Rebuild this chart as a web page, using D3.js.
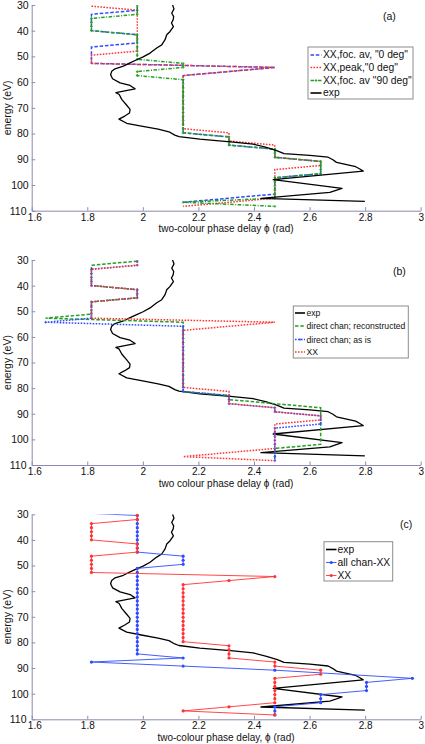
<!DOCTYPE html>
<html><head><meta charset="utf-8">
<script src="https://cdn.jsdelivr.net/npm/d3@7"></script>
<style>
body{margin:0;background:#fff;}
text{font-family:"Liberation Sans",Arial,sans-serif;}
</style>
</head><body>
<script>
// harmonic energies (eV), shared by all stepped series
const energies = [
 28.86, 30.45, 32.04, 33.63, 35.22, 36.81, 38.40, 39.98, 41.57, 43.16,
 44.75, 46.34, 47.93, 49.52, 51.11, 52.70, 54.29, 55.87, 57.46, 59.05,
 60.64, 62.23, 63.82, 65.41, 67.00, 68.59, 70.18, 71.76, 73.35, 74.94,
 76.53, 78.12, 79.71, 81.30, 82.89, 84.48, 86.07, 87.65, 89.24, 90.83,
 92.42, 94.01, 95.60, 97.19, 98.78, 100.37, 101.96, 103.54, 105.13, 106.72,
 108.31];

// panel (a)
const xxFocAv0 = [
 1.98,1.98,1.98,1.815,1.815,1.815,1.815,1.815,1.98,1.98,
 1.98,1.815,1.815,1.815,1.815,1.815,2.475,2.31,2.145,2.145,
 2.145,2.145,2.145,2.145,2.145,2.145,2.145,2.145,2.145,2.145,
 2.145,2.145,2.145,2.31,2.31,2.31,2.475,2.475,2.475,2.64,
 2.64,2.64,2.64,2.475,2.475,2.475,2.475,2.475,2.31,2.145,
 null];
const xxPeak0 = [
 null,1.815,1.98,1.98,1.98,1.98,1.98,1.98,1.98,1.98,
 1.98,1.98,1.98,1.815,1.815,1.815,2.475,2.31,2.145,2.145,
 2.145,2.145,2.145,2.145,2.145,2.145,2.145,2.145,2.145,2.145,
 2.145,2.145,2.31,2.31,2.31,2.475,2.475,2.475,2.475,2.64,
 2.64,2.475,2.475,2.475,2.475,2.475,2.475,2.475,2.475,2.31,
 2.145];
const xxFocAv90 = [
 1.98,1.98,1.98,1.98,1.815,1.815,1.815,1.815,1.98,1.98,
 1.98,1.98,1.98,1.98,1.98,2.145,2.145,1.98,1.98,2.145,
 2.145,2.145,2.145,2.145,2.145,2.145,2.145,2.145,2.145,2.145,
 2.145,2.145,2.145,2.31,2.31,2.31,2.475,2.475,2.475,2.64,
 2.64,2.64,2.64,2.475,2.475,2.475,2.475,2.475,2.475,2.145,
 2.475];

// panels (b) and (c)
const xx = [
 null,1.98,1.98,1.815,1.815,1.815,1.815,1.815,1.98,1.98,
 1.98,1.815,1.815,1.815,1.815,1.815,2.475,2.31,2.145,2.145,
 2.145,2.145,2.145,2.145,2.145,2.145,2.145,2.145,2.145,2.145,
 2.145,2.145,2.145,2.31,2.31,2.31,2.31,2.475,2.475,2.64,
 2.64,2.475,2.475,2.475,2.475,2.475,2.475,2.475,2.31,2.145,
 2.475];
const directReconstructed = [
 null,1.98,1.815,1.815,1.815,1.815,1.815,1.815,1.98,1.98,
 1.98,1.815,1.815,1.815,1.815,1.65,2.145,2.145,2.145,2.145,
 2.145,2.145,2.145,2.145,2.145,2.145,2.145,2.145,2.145,2.145,
 2.145,2.145,2.145,2.145,2.31,2.31,2.475,2.64,2.64,2.64,
 2.64,2.64,2.64,2.64,2.64,2.64,2.64,2.475,2.475,2.475,
 2.475];
const directAsIs = [
 null,1.98,1.98,1.815,1.815,1.815,1.815,1.815,1.98,1.98,
 1.98,1.815,1.815,1.815,1.815,1.815,1.65,2.145,2.145,2.145,
 2.145,2.145,2.145,2.145,2.145,2.145,2.145,2.145,2.145,2.145,
 2.145,2.145,2.145,2.145,2.31,2.31,2.31,2.475,2.475,2.64,
 2.64,2.64,2.475,2.475,2.475,2.475,2.475,2.475,2.475,2.475,
 2.475];
const allChanMinusXX = [
 1.65,1.98,1.98,1.98,1.98,1.98,1.98,1.98,1.98,1.98,
 1.98,2.145,2.145,2.145,1.98,1.98,1.98,1.98,1.98,1.98,
 1.98,1.98,1.98,1.98,1.98,1.98,1.98,1.98,1.98,1.98,
 1.98,1.98,1.98,1.98,1.98,1.98,2.145,1.815,2.145,2.475,
 null,2.97,2.805,2.805,2.805,2.64,2.64,2.64,2.475,2.475,
 2.475];

// experiment (same in all panels)
const expEnergy = [30.0,31.5,33.2,34.5,35.8,37.0,38.4,40.3,41.6,43.5,45.5,46.7,48.7,50.2,51.3,52.5,53.8,54.8,55.8,57.1,58.7,60.3,61.3,62.6,64.1,64.8,66.7,69.0,70.6,72.0,73.2,74.4,76.0,77.0,78.3,79.3,80.6,81.2,82.2,83.3,84.1,85.4,86.7,87.8,88.5,89.2,90.2,91.2,92.9,93.8,94.6,97.9,101.3,102.9,105.2,106.4];
const expPhase  = [2.107,2.112,2.104,2.111,2.109,2.103,2.110,2.098,2.086,2.080,2.068,2.050,2.026,2.001,1.978,1.954,1.930,1.900,1.888,1.884,1.891,1.918,1.954,1.972,1.903,1.915,1.924,1.942,1.954,1.952,1.935,1.914,1.942,1.990,2.055,2.094,2.115,2.130,2.205,2.325,2.397,2.445,2.484,2.508,2.601,2.667,2.684,2.697,2.766,2.781,2.793,2.469,2.717,2.673,2.425,2.799];

const xTicks = [1.6,1.8,2.0,2.2,2.4,2.6,2.8,3.0];
const xTickLabels = ["1.6","1.8","2","2.2","2.4","2.6","2.8","3"];
const yTicks = [30,40,50,60,70,80,90,100,110];
const yTickLabels = ["30","40","50","60","70","80","90","100","110"];

const BLUE="#2f4bff", RED="#ff3333", GREEN="#22a022";

const svg = d3.select("body").append("svg").attr("width",425).attr("height",744);
const x = d3.scaleLinear().domain([1.6,3]).range([31.7,420.7]);

const panels = [
 {id:"a", top:5, bottom:210.7, tag:"(a)", tagX:383, tagY:20,
  xlabel:"two-colour phase delay \u03D5 (rad)", xlabelY:232,
  series:[
   {name:'XX,foc. av, "0 deg"', v:xxFocAv0, color:BLUE, w:1.5, dash:"3.5,1.8"},
   {name:'XX,peak,"0 deg"', v:xxPeak0, color:RED, w:1.5, dash:"1.6,1.4"},
   {name:'XX,foc. av "90 deg"', v:xxFocAv90, color:GREEN, w:1.5, dash:"3.5,1.5,1,1.5", plus:true},
   {name:"exp", exp:true}
  ],
  legend:{x:308,y:47,w:105,h:52, rows:[55,67.5,80.5,93], s0:310.5, s1:321.5, tx:323, fs:10.3}},
 {id:"b", top:260, bottom:465, tag:"(b)", tagX:393, tagY:275,
  xlabel:"two colour phase delay \u03D5 (rad)", xlabelY:486.5,
  series:[
   {name:"exp", exp:true},
   {name:"direct chan; reconstructed", v:directReconstructed, color:GREEN, w:1.5, dash:"3.5,1.8"},
   {name:"direct chan; as is", v:directAsIs, color:BLUE, w:1.5, dash:"1.6,1.4", plus:true},
   {name:"XX", v:xx, color:RED, w:1.5, dash:"1.6,1.4"}
  ],
  legend:{x:293.3,y:306,w:115,h:52, rows:[313,326,339.5,352], s0:295, s1:305, tx:306.5, fs:8.6}},
 {id:"c", top:514.3, bottom:719.3, tag:"(c)", tagX:400, tagY:528,
  xlabel:"two-colour phase delay, \u03D5 (rad)", xlabelY:741,
  series:[
   {name:"exp", exp:true},
   {name:"all chan-XX", v:allChanMinusXX, color:BLUE, w:0.9, dots:true},
   {name:"XX", v:xx, color:RED, w:0.9, dots:true}
  ],
  legend:{x:324,y:541.7,w:68.7,h:39.3, rows:[549.5,562.5,575.5], s0:326, s1:336.5, tx:337.5, fs:10.3}}
];

panels.forEach(p => {
  const y = d3.scaleLinear().domain([30,110]).range([p.top,p.bottom]);
  const g = svg.append("g");
  const clipId = "clip-"+p.id;
  svg.append("clipPath").attr("id",clipId).append("rect")
    .attr("x",x(1.6)).attr("y",p.top).attr("width",x(3)-x(1.6)).attr("height",p.bottom-p.top);

  // axes
  const axB = g.append("g").attr("transform",`translate(0,${p.bottom})`)
    .call(d3.axisBottom(x).tickValues(xTicks).tickFormat((d,i)=>xTickLabels[i])
      .tickSizeInner(-3.5).tickSizeOuter(0).tickPadding(3));
  const axL = g.append("g").attr("transform",`translate(${x(1.6)},0)`)
    .call(d3.axisLeft(y).tickValues(yTicks).tickFormat((d,i)=>yTickLabels[i])
      .tickSizeInner(-3.5).tickSizeOuter(0).tickPadding(3));
  [axB,axL].forEach(a=>{
    a.select(".domain").attr("stroke","#8a8ab4");
    a.selectAll(".tick line").attr("stroke","#8a8ab4");
    a.selectAll(".tick text").attr("fill","#111").style("font-size","10.5px")
      .style("font-family",'"Liberation Sans",Arial,sans-serif');
  });
  axB.selectAll(".tick text").style("font-size","10px");
  // keep the corner labels ("110" and "1.6") from colliding
  axL.selectAll(".tick text").filter(d=>d===110).attr("dx",-2.2);
  axB.selectAll(".tick text").filter(d=>d===1.6).attr("dx",2.6);

  // axis labels
  g.append("text").attr("x",226).attr("y",p.xlabelY).attr("text-anchor","middle")
    .style("font-size","10px").attr("fill","#111").text(p.xlabel);
  g.append("text").attr("transform",`translate(11,${(p.top+p.bottom)/2}) rotate(-90)`)
    .attr("text-anchor","middle").style("font-size","10.5px").attr("fill","#111").text("energy (eV)");
  g.append("text").attr("x",p.tagX).attr("y",p.tagY).style("font-size","10.5px").attr("fill","#111").text(p.tag);

  const plot = g.append("g").attr("clip-path",`url(#${clipId})`);
  p.series.forEach(s => {
    if (s.exp) {
      const pts = expEnergy.map((e,i)=>({e, v:expPhase[i]}));
      plot.append("path").datum(pts)
        .attr("d", d3.line().x(d=>x(d.v)).y(d=>y(d.e)))
        .attr("fill","none").attr("stroke","#000").attr("stroke-width",1.3)
        .attr("stroke-linejoin","round");
      return;
    }
    const pts = energies.map((e,i)=>({e, v:s.v[i]})).filter(d=>d.v!=null);
    const path = plot.append("path").datum(pts)
      .attr("d", d3.line().x(d=>x(d.v)).y(d=>y(d.e)))
      .attr("fill","none").attr("stroke",s.color).attr("stroke-width",s.w);
    if (s.dash) path.attr("stroke-dasharray",s.dash);
    if (s.plus) {
      plot.selectAll(null).data(pts).enter().append("path")
        .attr("transform",d=>`translate(${x(d.v)},${y(d.e)})`)
        .attr("d","M-1.4,0H1.4M0,-1.4V1.4").attr("stroke",s.color).attr("stroke-width",0.8);
    }
    if (s.dots) {
      plot.selectAll(null).data(pts).enter().append("circle")
        .attr("cx",d=>x(d.v)).attr("cy",d=>y(d.e)).attr("r",1.6).attr("fill",s.color);
    }
  });

  // legend
  const L = p.legend;
  const lg = g.append("g");
  lg.append("rect").attr("x",L.x).attr("y",L.y).attr("width",L.w).attr("height",L.h)
    .attr("fill","#fff").attr("stroke","#8c8c8c").attr("stroke-width",1);
  p.series.forEach((s,i)=>{
    const ry = L.rows[i];
    const ln = lg.append("line").attr("x1",L.s0).attr("x2",L.s1).attr("y1",ry).attr("y2",ry);
    if (s.exp) ln.attr("stroke","#000").attr("stroke-width",1.6);
    else {
      ln.attr("stroke",s.color).attr("stroke-width",s.w);
      if (s.dash) ln.attr("stroke-dasharray",s.dash);
      if (s.plus) lg.append("path").attr("transform",`translate(${(L.s0+L.s1)/2},${ry})`)
        .attr("d","M-1.4,0H1.4M0,-1.4V1.4").attr("stroke",s.color).attr("stroke-width",0.8);
      if (s.dots) lg.append("circle").attr("cx",(L.s0+L.s1)/2).attr("cy",ry).attr("r",1.6).attr("fill",s.color);
    }
    lg.append("text").attr("x",L.tx).attr("y",ry+3.4).style("font-size",L.fs+"px").attr("fill","#111").text(s.name);
  });
});
</script>
</body></html>
